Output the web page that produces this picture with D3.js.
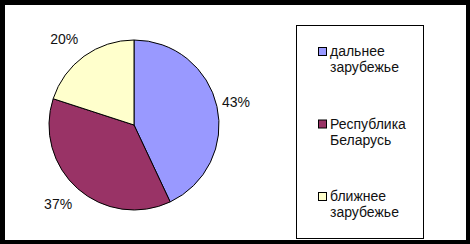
<!DOCTYPE html>
<meta charset="UTF-8">
<html>
	<head>
		<script src="https://d3js.org/d3.v7.min.js"></script>
		<style>
			body { margin:0; background:#000; }
			.Label, .LegendText { font-family:"Liberation Sans", Arial, sans-serif; font-size:14px; fill:#111; }
		</style>
	</head>
	<body>
		<svg class="Chart"></svg>
		<script type="text/javascript">
		// data
		var Categories = ["дальнее зарубежье", "Республика Беларусь", "ближнее зарубежье"];
		var LegendLines = [["дальнее", "зарубежье"], ["Республика", "Беларусь"], ["ближнее", "зарубежье"]];
		var Shares = [43, 37, 20];
		var Colours = ["#9999FF", "#993366", "#FFFFCC"];

		var Width = 470;
		var Height = 244;
		var Centre = {"X":134, "Y":125};
		var Radius = 85;

		var Chart = d3.select(".Chart")
			.attr("width", Width)
			.attr("height", Height)
			.style("display", "block");

		Chart.append("rect").attr("width", Width).attr("height", Height).attr("fill", "#000");
		Chart.append("rect").attr("x", 5).attr("y", 5).attr("width", 461).attr("height", 235).attr("fill", "#fff");

		var Pie = d3.pie().sort(null).value(function(d){return d;});
		var Arc = d3.arc().innerRadius(0).outerRadius(Radius);
		var Slices = Pie(Shares);

		var PieGroup = Chart.append("g")
			.attr("transform", "translate(" + Centre.X + "," + Centre.Y + ")");

		PieGroup.selectAll("path")
			.data(Slices)
			.enter()
			.append("path")
			.attr("d", Arc)
			.attr("fill", function(d, i){return Colours[i];})
			.attr("stroke", "#000")
			.attr("stroke-width", 1);

		// labels just outside the edge, pushed sideways a bit like excel does
		PieGroup.selectAll(".Label")
			.data(Slices)
			.enter()
			.append("text")
			.attr("class", "Label")
			.attr("text-anchor", "middle")
			.attr("dy", "0.35em")
			.attr("x", function(d){
				var a = (d.startAngle + d.endAngle)/2;
				return Math.sin(a)*83 + (Math.sin(a) > 0 ? 21 : -21);
			})
			.attr("y", function(d){
				var a = (d.startAngle + d.endAngle)/2;
				return -Math.cos(a)*106;
			})
			.text(function(d){return d.data + "%";});

		// legend
		var Legend = Chart.append("g");
		Legend.append("rect")
			.attr("x", 296.5).attr("y", 25.5)
			.attr("width", 127).attr("height", 213)
			.attr("fill", "#fff").attr("stroke", "#000");

		var LegendY = d3.scalePoint().domain(Categories).range([56, 201]);

		var Items = Legend.selectAll(".Item")
			.data(Categories)
			.enter()
			.append("g")
			.attr("class", "Item")
			.attr("transform", function(d){return "translate(0," + LegendY(d) + ")";});

		Items.append("rect")
			.attr("x", 318.5).attr("y", -8.5)
			.attr("width", 8).attr("height", 8)
			.attr("fill", function(d, i){return Colours[i];})
			.attr("stroke", "#000");

		Items.each(function(d, i){
			var T = d3.select(this).append("text").attr("class", "LegendText");
			LegendLines[i].forEach(function(Line, j){
				T.append("tspan").attr("x", 330).attr("y", j*16).text(Line);
			});
		});
		</script>
	</body>
</html>
